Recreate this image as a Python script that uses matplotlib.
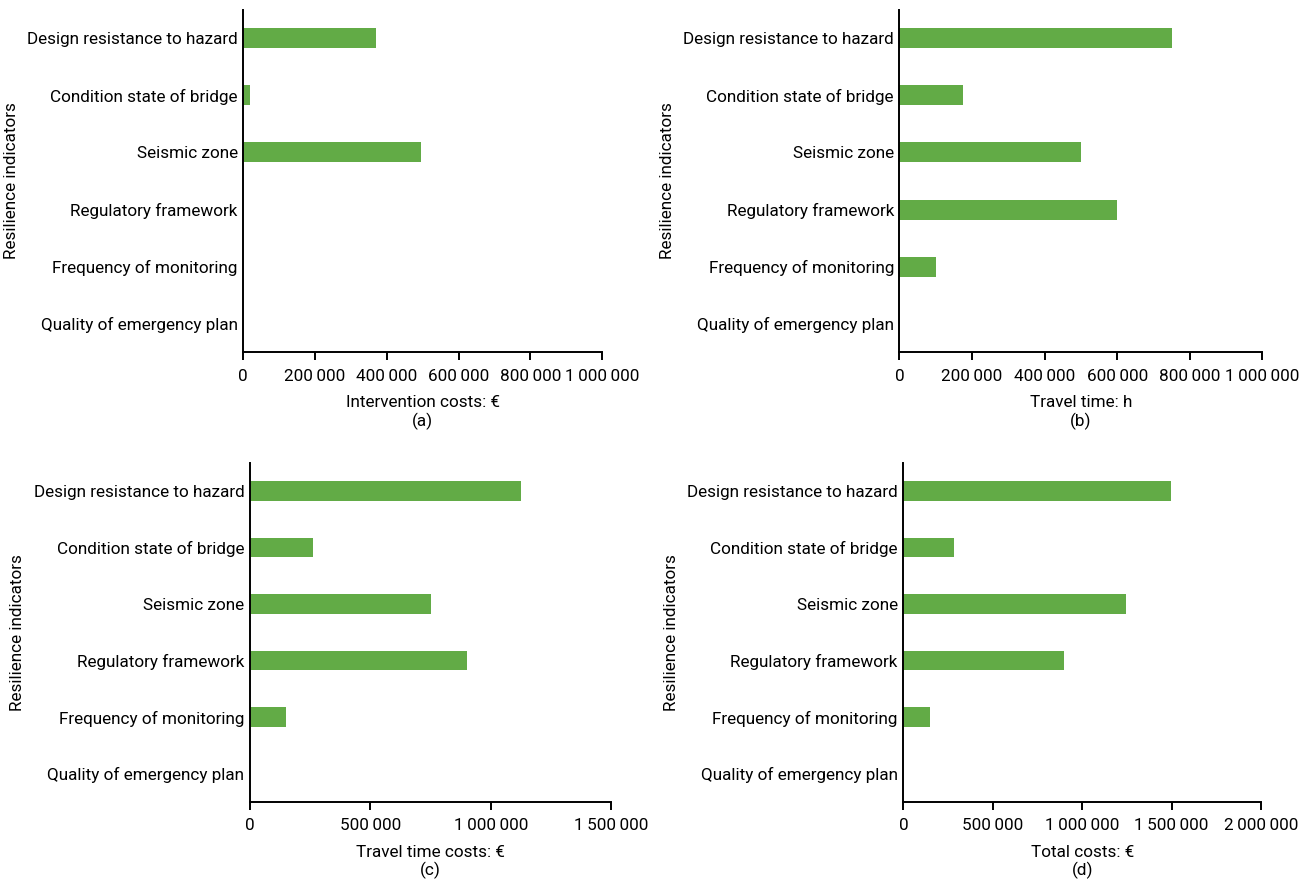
import matplotlib
matplotlib.use("Agg")
import matplotlib.pyplot as plt
from matplotlib.ticker import FuncFormatter

plt.rcParams["font.family"] = ["Roboto", "DejaVu Sans"]

indicators = [
    "Design resistance to hazard",
    "Condition state of bridge",
    "Seismic zone",
    "Regulatory framework",
    "Frequency of monitoring",
    "Quality of emergency plan",
]

intervention_costs = [370000, 20000, 495000, 0, 0, 0]
travel_time = [750000, 175000, 500000, 600000, 100000, 0]
travel_time_costs = [1125000, 262500, 750000, 900000, 150000, 0]
total_costs = [1495000, 282500, 1245000, 900000, 150000, 0]

GREEN = "#62ab46"
FS = 12.3


def thousands(x, pos):
    return "{:,.0f}".format(x).replace(",", "\u2009")


def panel(ax, values, xmax, step, xlabel, tag):
    ypos = range(len(indicators))
    ax.barh(ypos, values, height=0.35, color=GREEN)
    ax.set_yticks(list(ypos))
    ax.set_yticklabels(indicators)
    ax.set_ylim(len(indicators) - 0.5, -0.5)
    ax.set_xlim(0, xmax)
    ax.set_xticks(range(0, xmax + 1, step))
    ax.xaxis.set_major_formatter(FuncFormatter(thousands))
    for side in ("top", "right"):
        ax.spines[side].set_visible(False)
    for side in ("left", "bottom"):
        ax.spines[side].set_linewidth(1.4)
    ax.tick_params(axis="y", length=0, labelsize=FS, pad=4)
    ax.tick_params(axis="x", length=6, width=1.4, labelsize=FS, pad=6)
    ax.set_xlabel(xlabel + "\n" + tag, fontsize=FS, labelpad=8, linespacing=1.2)
    ax.set_ylabel("Resilience indicators", fontsize=FS, labelpad=6)


fig = plt.figure(figsize=(13.15, 8.83), dpi=100)
ax_a = fig.add_axes([0.185, 0.601, 0.273, 0.388])
ax_b = fig.add_axes([0.684, 0.601, 0.276, 0.388])
ax_c = fig.add_axes([0.190, 0.092, 0.275, 0.384])
ax_d = fig.add_axes([0.687, 0.092, 0.272, 0.384])

panel(ax_a, intervention_costs, 1000000, 200000, "Intervention costs: \u20ac", "(a)")
panel(ax_b, travel_time, 1000000, 200000, "Travel time: h", "(b)")
panel(ax_c, travel_time_costs, 1500000, 500000, "Travel time costs: \u20ac", "(c)")
panel(ax_d, total_costs, 2000000, 500000, "Total costs: \u20ac", "(d)")

fig.savefig("out.png", dpi=100)
